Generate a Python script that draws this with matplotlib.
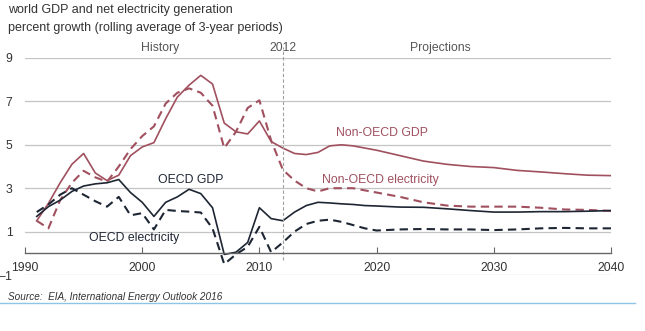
import matplotlib
matplotlib.use("Agg")
import matplotlib.pyplot as plt
from matplotlib.lines import Line2D

plt.rcParams['font.family'] = ['Liberation Sans', 'DejaVu Sans']

# years: annual through 2020, then every two years
years = list(range(1991, 2021)) + list(range(2022, 2041, 2))

non_oecd_gdp = [1.5, 2.3, 3.25, 4.1, 4.6, 3.7, 3.35, 3.6, 4.5, 4.9,
                5.1, 6.2, 7.2, 7.75, 8.2, 7.8, 6.0, 5.6, 5.5, 6.1,
                5.15, 4.85, 4.6, 4.55, 4.65, 4.95, 5.0, 4.95, 4.85, 4.75,
                4.5, 4.25, 4.1, 4.0, 3.95, 3.82, 3.75, 3.67, 3.6, 3.58]

non_oecd_elec = [1.5, 1.15, 2.45, 3.25, 3.8, 3.5, 3.3, 4.0, 4.8, 5.4,
                 5.85, 6.9, 7.4, 7.6, 7.4, 6.8, 4.85, 5.6, 6.7, 7.05,
                 5.2, 3.85, 3.35, 3.0, 2.85, 3.0, 3.0, 3.0, 2.9, 2.8,
                 2.6, 2.35, 2.2, 2.15, 2.15, 2.15, 2.1, 2.02, 2.0, 1.95]

oecd_gdp = [1.7, 2.15, 2.45, 2.85, 3.1, 3.2, 3.25, 3.4, 2.8, 2.35,
            1.7, 2.35, 2.6, 2.95, 2.75, 2.1, -0.05, 0.05, 0.5, 2.1,
            1.6, 1.5, 1.9, 2.2, 2.35, 2.32, 2.28, 2.25, 2.2, 2.18,
            2.13, 2.12, 2.05, 1.97, 1.9, 1.9, 1.92, 1.92, 1.94, 1.97]

oecd_elec = [1.9, 2.25, 2.7, 3.0, 2.7, 2.4, 2.15, 2.6, 1.75, 1.85,
             1.1, 2.0, 1.95, 1.92, 1.88, 1.15, -0.5, -0.05, 0.3, 1.22,
             0.05, 0.5, 1.0, 1.35, 1.5, 1.55, 1.45, 1.3, 1.15, 1.05,
             1.1, 1.12, 1.1, 1.1, 1.07, 1.1, 1.15, 1.17, 1.15, 1.15]

x_ticks = [1990, 2000, 2010, 2020, 2030, 2040]
y_ticks = [-1, 1, 3, 5, 7, 9]

maroon = '#a0505e'
dark = '#1e2634'
gray_txt = '#555555'
fs = 8.8

fig = plt.figure(figsize=(6.45, 3.31), dpi=100)
ax = fig.add_axes([25/645, 56/331, 586/645, 217/331])

ax.plot(years, non_oecd_gdp, color=maroon, lw=1.2)
ax.plot(years, non_oecd_elec, color=maroon, lw=1.5, dashes=(4, 2.5))
ax.plot(years, oecd_gdp, color=dark, lw=1.2)
ax.plot(years, oecd_elec, color=dark, lw=1.5, dashes=(4, 2.5))

ax.set_xlim(1990, 2040)
ax.set_ylim(-1, 9)
ax.set_yticks(y_ticks)
ax.set_xticks(x_ticks)
ax.grid(axis='y', color='#c4c4c4', lw=0.9)
ax.set_axisbelow(True)

for s in ['top', 'right', 'left']:
    ax.spines[s].set_visible(False)
ax.spines['bottom'].set_position(('data', 0))
ax.spines['bottom'].set_color('#666666')
ax.spines['bottom'].set_linewidth(1.0)
ax.tick_params(axis='x', direction='in', length=4, color='#666666',
               labelsize=fs, labelcolor='#333333', pad=6.5)
ax.tick_params(axis='y', length=0, labelsize=fs, labelcolor='#333333', pad=9)

# 2012 divider
ax.axvline(2012, ymin=0.07, ymax=1.05, color='#a0a0a0', lw=0.8,
           ls=(0, (3, 2)), clip_on=False)
ax.text(2001.5, 9.45, 'History', ha='center', va='center', fontsize=fs, color=gray_txt)
ax.text(2012, 9.45, '2012', ha='center', va='center', fontsize=fs, color=gray_txt)
ax.text(2025.4, 9.45, 'Projections', ha='center', va='center', fontsize=fs, color=gray_txt)

# series labels
ax.text(2016.5, 5.55, 'Non-OECD GDP', fontsize=fs, color=maroon, va='center')
ax.text(2015.3, 3.4, 'Non-OECD electricity', fontsize=fs, color=maroon, va='center')
ax.text(2001.35, 3.4, 'OECD GDP', fontsize=fs, color=dark, va='center')
ax.text(1995.5, 0.7, 'OECD electricity', fontsize=fs, color=dark, va='center')

fig.text(8/645, 1 - 10/331, 'world GDP and net electricity generation',
         fontsize=9, color='#333333', va='center')
fig.text(8/645, 1 - 28/331, 'percent growth (rolling average of 3-year periods)',
         fontsize=9, color='#333333', va='center')
fig.text(8/645, 1 - 297/331, 'Source:  EIA, International Energy Outlook 2016',
         fontsize=7.2, style='italic', color='#333333', va='center')

fig.add_artist(Line2D([0, 0.985], [1 - 303/331, 1 - 303/331],
                      color='#8ec5e6', lw=1.0, transform=fig.transFigure))

fig.savefig('out.png', dpi=100)
